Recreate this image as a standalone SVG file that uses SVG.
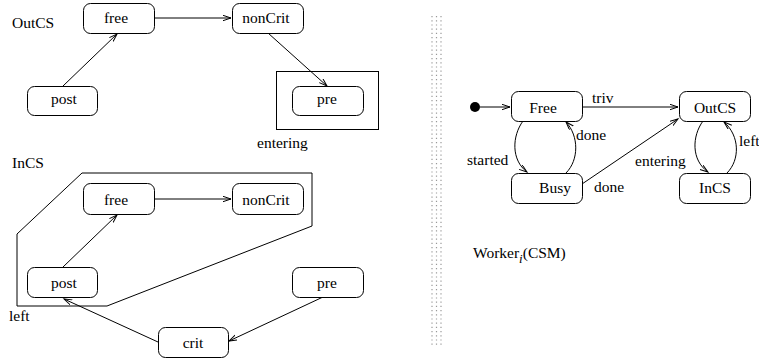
<svg xmlns="http://www.w3.org/2000/svg" width="759" height="360" viewBox="0 0 759 360" font-family="'Liberation Serif', 'DejaVu Serif', serif">
<style>
.n rect{fill:#fff;stroke:#000;stroke-width:1}
text{font-family:'Liberation Serif','DejaVu Serif',serif;font-size:15.5px;fill:#000}
.c{text-anchor:middle}
.e path,.e line,.e polyline{fill:none;stroke:#000;stroke-width:1;marker-end:url(#ah)}
.frame{fill:none;stroke:#000;stroke-width:1}
.dots{stroke:#999;stroke-width:1.2;stroke-dasharray:1.2 3}
</style>
<defs>
<marker id="ah" markerUnits="userSpaceOnUse" markerWidth="10" markerHeight="8" refX="8" refY="3" orient="auto">
<path d="M0,0.3 L8,3 L0,5.7" fill="none" stroke="#000" stroke-width="1"/>
</marker>
</defs>
<rect width="759" height="360" fill="#fff"/>
<!-- divider -->
<line class="dots" x1="432" y1="16" x2="432" y2="346"/>
<line class="dots" x1="436.5" y1="16" x2="436.5" y2="346"/>
<line class="dots" x1="441" y1="16" x2="441" y2="346" stroke="#666"/>
<!-- labels / frames -->
<text x="12" y="28">OutCS</text>
<rect class="frame" x="276.5" y="71.5" width="102" height="58"/>
<text x="257" y="148">entering</text>
<text x="12" y="168">InCS</text>
<polygon class="frame" points="82,173 312,173 312,226 107,306 17,306 17,234"/>
<text x="9" y="321">left</text>
<text x="473" y="258">Worker<tspan font-style="italic" font-size="13" dy="5">i</tspan><tspan dy="-5">(CSM)</tspan></text>
<g class="e" id="edges">
<line x1="154" y1="18" x2="231" y2="18"/>
<line x1="63" y1="86" x2="117" y2="34"/>
<line x1="268" y1="33" x2="327" y2="86"/>
<line x1="154" y1="199" x2="231" y2="199"/>
<line x1="63" y1="267" x2="117" y2="215"/>
<line x1="158" y1="342" x2="64" y2="299"/>
<line x1="323" y1="297" x2="229" y2="341"/>
<line x1="480" y1="107" x2="510" y2="107"/>
<line x1="582" y1="107" x2="678" y2="107"/>
<path d="M523,121 C512,136 511,160 527,172"/>
<path d="M566,173 C579,160 579,136 566,122"/>
<line x1="582" y1="184" x2="678" y2="119"/>
<path d="M703,121 C692,136 691,160 708,172"/>
<path d="M727,173 C740,160 740,136 724,122"/>
</g>
<circle cx="475" cy="107" r="5" fill="#000"/>
<text x="592" y="103">triv</text>
<text x="576" y="140">done</text>
<text x="467" y="165">started</text>
<text x="594" y="192">done</text>
<text x="635" y="166">entering</text>
<text x="739" y="146">left</text>
<g class="n" id="o_free"><rect x="83.5" y="3.5" width="71" height="30" rx="7"/><text class="c" x="116" y="23">free</text></g>
<g class="n" id="o_noncrit"><rect x="232.5" y="3.5" width="71" height="30" rx="7"/><text class="c" x="266" y="23">nonCrit</text></g>
<g class="n" id="o_post"><rect x="27.5" y="86.5" width="70" height="29" rx="7"/><text class="c" x="64" y="104">post</text></g>
<g class="n" id="o_pre"><rect x="292.5" y="86.5" width="71" height="29" rx="7"/><text class="c" x="327" y="104">pre</text></g>
<g class="n" id="i_free"><rect x="83.5" y="183.5" width="71" height="31" rx="7"/><text class="c" x="116" y="205">free</text></g>
<g class="n" id="i_noncrit"><rect x="232.5" y="183.5" width="71" height="31" rx="7"/><text class="c" x="266" y="205">nonCrit</text></g>
<g class="n" id="i_post"><rect x="27.5" y="267.5" width="70" height="30" rx="7"/><text class="c" x="64" y="288">post</text></g>
<g class="n" id="i_pre"><rect x="292.5" y="267.5" width="71" height="30" rx="7"/><text class="c" x="327" y="288">pre</text></g>
<g class="n" id="i_crit"><rect x="158.5" y="327.5" width="70" height="30" rx="7"/><text class="c" x="193" y="348">crit</text></g>
<g class="n" id="w_free"><rect x="511.5" y="91.5" width="71" height="30" rx="7"/><text class="c" x="543" y="113">Free</text></g>
<g class="n" id="w_outcs"><rect x="679.5" y="91.5" width="71" height="30" rx="7"/><text class="c" x="715" y="113">OutCS</text></g>
<g class="n" id="w_busy"><rect x="511.5" y="173.5" width="71" height="30" rx="7"/><text class="c" x="555" y="193">Busy</text></g>
<g class="n" id="w_incs"><rect x="679.5" y="173.5" width="71" height="30" rx="7"/><text class="c" x="715" y="193">InCS</text></g>
</svg>
